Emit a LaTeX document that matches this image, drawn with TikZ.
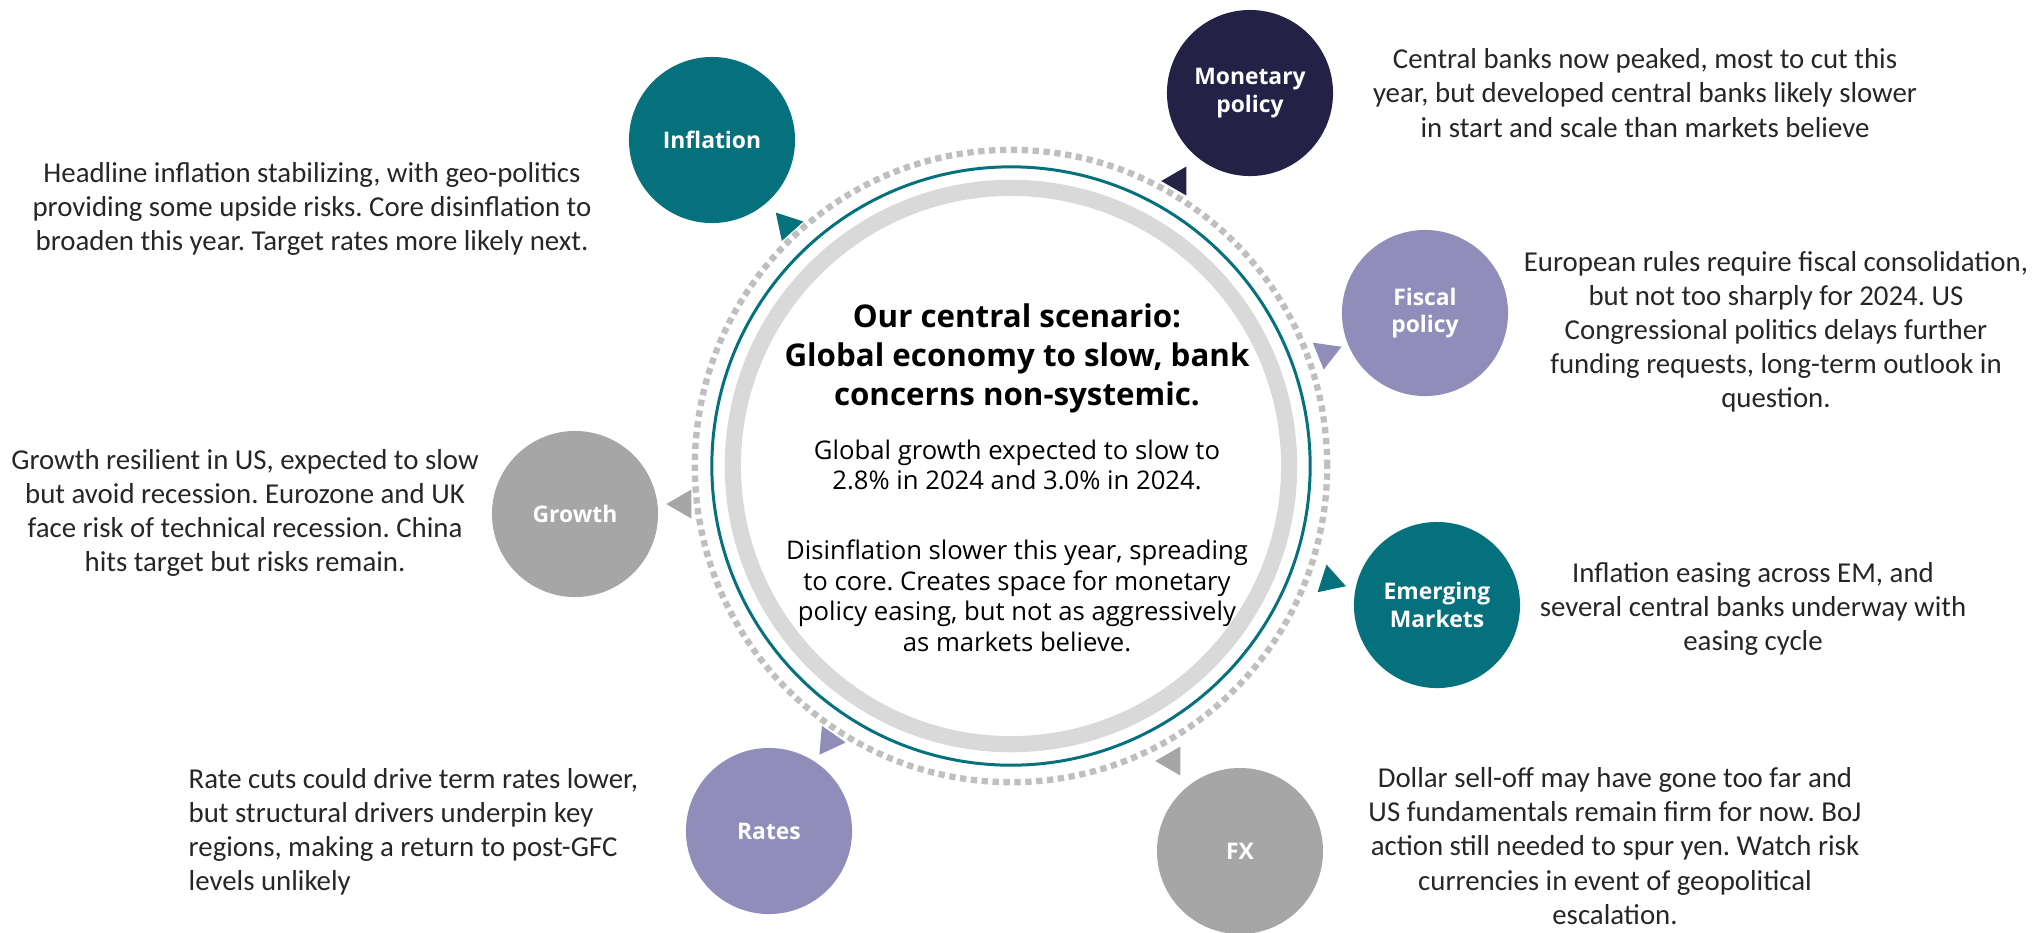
\documentclass[tikz,border=0pt]{standalone}
\usepackage{fontspec}
\setmainfont{Carlito}
\newfontfamily\labelfont{Open Sans}
\usetikzlibrary{
  shapes.geometric,
  positioning
}
\definecolor{tealc}{HTML}{04717D}
\definecolor{navyc}{HTML}{232246}
\definecolor{lilac}{HTML}{908DBA}
\definecolor{greyc}{HTML}{A6A6A6}
\definecolor{ringc}{HTML}{D9D9D9}
\definecolor{dotc}{HTML}{BFBFBF}
\definecolor{inkc}{HTML}{262626}
\frenchspacing

\begin{document}
\begin{tikzpicture}[
      x=0.01cm,y=-0.01cm,
      topic/.style={
         circle,
         minimum size=1.66cm,
         inner sep=0pt,
         fill=#1,
         text=white,
         align=center,
         font=\labelfont\bfseries\fontsize{6.5}{7.8}\selectfont
      },
      note/.style={
         align=center,
         text=inkc,
         inner sep=0pt,
         font=\fontsize{8.2}{9.7}\selectfont
      },
      tip/.style={
         regular polygon,
         regular polygon sides=3,
         minimum size=0.335cm,
         inner sep=0pt,
         fill=#1
      },
      dots/.style={draw=dotc, line width=1.8pt, dash pattern=on 1.8pt off 1.3pt},
      title/.style={align=center, inner sep=0pt,
         font=\labelfont\bfseries\fontsize{8.9}{11.1}\selectfont},
      body/.style={align=center, inner sep=0pt,
         font=\labelfont\fontsize{7.3}{8.7}\selectfont}
    ]
    \useasboundingbox (0,0) rectangle (2032,932);
    % centre rings
    \coordinate (ctr) at (1011,466);
    \draw[dots] (ctr) circle[radius=3.16cm];
    \draw[tealc, line width=0.85pt] (ctr) circle[radius=2.99cm];
    \draw[ringc, line width=4.6pt] (ctr) circle[radius=2.78cm];
    \node (head) [title] at (1017,358) {Our central scenario:\\Global economy to slow, bank\\concerns non-systemic.};
    \node (body1) [body] at (1017,465) {Global growth expected to slow to\\2.8\% in 2024 and 3.0\% in 2024.};
    \node (body2) [body] at (1017,596) {Disinflation slower this year, spreading\\to core. Creates space for monetary\\policy easing, but not as aggressively\\as markets believe.};
    % arrow tips on the dotted ring
    \node (a1) [tip=tealc, rotate=-78] at (787,225) {};
    \node (a2) [tip=navyc, rotate=90] at (1178,181) {};
    \node (a3) [tip=lilac, rotate=-68] at (1326,353) {};
    \node (a4) [tip=tealc, rotate=-108] at (1330,581) {};
    \node (a5) [tip=greyc, rotate=90] at (1172,761) {};
    \node (a6) [tip=lilac, rotate=-95] at (829,741) {};
    \node (a7) [tip=greyc, rotate=90] at (683,504) {};
    % topics
    \node (c1) [topic=tealc] at (712,140) {Inflation};
    \node (c2) [topic=navyc] at (1250,93) {Monetary\\policy};
    \node (c3) [topic=lilac] at (1425,313) {Fiscal\\policy};
    \node (c4) [topic=tealc] at (1437,605) {Emerging\\Markets};
    \node (c5) [topic=greyc] at (1240,851) {FX};
    \node (c6) [topic=lilac] at (769,831) {Rates};
    \node (c7) [topic=greyc] at (575,514) {Growth};
    % notes
    \node (t1) [note] at (312,209) {Headline inflation stabilizing, with geo-politics\\providing some upside risks. Core disinflation to\\broaden this year. Target rates more likely next.};
    \node (t2) [note] at (1645,93) {Central banks now peaked, most to cut this\\year, but developed central banks likely slower\\in start and scale than markets believe};
    \node (t3) [note] at (1776,332) {European rules require fiscal consolidation,\\but not too sharply for 2024. US\\Congressional politics delays further\\funding requests, long-term outlook in\\question.};
    \node (t4) [note] at (1753,609) {Inflation easing across EM, and\\several central banks underway with\\easing cycle};
    \node (t5) [note] at (1615,846) {Dollar sell-off may have gone too far and\\US fundamentals remain firm for now. BoJ\\action still needed to spur yen. Watch risk\\currencies in event of geopolitical\\escalation.};
    \node (t6) [note, align=left, anchor=west] at (188,832) {Rate cuts could drive term rates lower,\\but structural drivers underpin key\\regions, making a return to post-GFC\\levels unlikely};
    \node (t7) [note] at (245,513) {Growth resilient in US, expected to slow\\but avoid recession. Eurozone and UK\\face risk of technical recession. China\\hits target but risks remain.};
\end{tikzpicture}
\end{document}
